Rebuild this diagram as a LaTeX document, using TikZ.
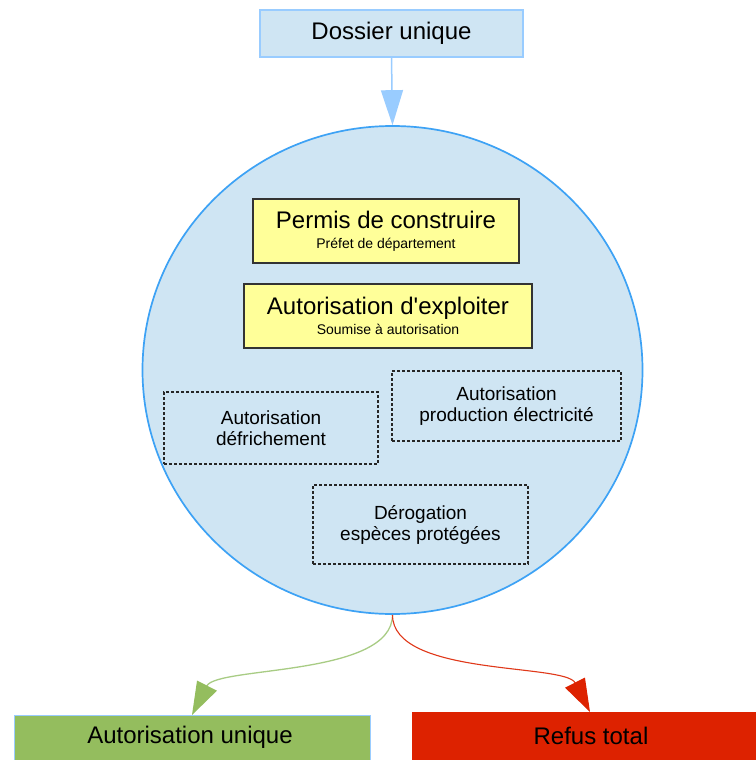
\documentclass[tikz,border=0pt]{standalone}
\usepackage{fontspec}
\setmainfont{Liberation Sans}[Ligatures=TeXOff]
\usetikzlibrary{shapes.geometric,arrows.meta}
\definecolor{lblue}{HTML}{CFE5F3}
\definecolor{bblue}{HTML}{3DA2F5}
\definecolor{abl}{HTML}{99CCFF}
\definecolor{yel}{HTML}{FFFF99}
\definecolor{grn}{HTML}{94BD5E}
\definecolor{grnline}{HTML}{A8CC84}
\definecolor{rd}{HTML}{DD2200}
\begin{document}
\begin{tikzpicture}[x=1pt,y=-1pt,
  ybox/.style={draw=black!80, fill=yel, line width=1.5pt, align=center, inner sep=0pt,
    font=\fontsize{14}{20}\selectfont},
  dbox/.style={draw=black!85, dash pattern=on 3pt off 2pt, line width=1.2pt, align=center,
    inner sep=0pt, font=\fontsize{19}{21}\selectfont},
  big/.style={font=\fontsize{24}{28}\selectfont},
  btm/.style={minimum width=356pt, minimum height=60pt, anchor=north, inner sep=0pt}]
\useasboundingbox (0,0) rectangle (755,760);
\fill[white] (0,0) rectangle (755,760);

\node[draw=abl, fill=lblue, line width=1.2pt, minimum width=263pt, minimum height=47pt, inner sep=0pt, big] (dos) at (391.5,33.5) {Dossier unique};

\node[ellipse, draw=bblue, fill=lblue, line width=1.7pt, minimum width=500pt, minimum height=488pt, inner sep=0pt] (circ) at (392.5,370) {};

\draw[abl, line width=1.5pt, -{Triangle[width=22pt,length=35pt]}] (dos.south) -- (circ.north);

\node[ybox, minimum width=266pt, minimum height=64pt] (pc) at (386,231)
  {{\fontsize{24}{20}\selectfont Permis de construire}\\Préfet de département};
\node[ybox, minimum width=288pt, minimum height=64pt] (ae) at (388,316)
  {{\fontsize{24}{20}\selectfont Autorisation d'exploiter}\\Soumise à autorisation};

\node[dbox, minimum width=214pt, minimum height=72pt] (d1) at (271,428) {Autorisation\\défrichement};
\node[dbox, minimum width=229pt, minimum height=70pt] (d2) at (506.5,406) {Autorisation\\production électricité};
\node[dbox, minimum width=215pt, minimum height=79pt] (d3) at (420.5,524.5) {Dérogation\\espèces protégées};

\node[btm, draw=abl, fill=grn] (gb) at (192,715) {};
\node[big] (gt) at (190,737) {Autorisation unique};
\node[btm, draw=rd, fill=rd] (rb) at (590,712) {};
\node[big] (rt) at (591,736) {Refus total};

\draw[grnline, line width=1.3pt, -{Triangle[width=22pt,length=33pt,fill=grn,color=grn]}]
  (circ.south) .. controls +(0,62) and +(25,-49) .. (gb.north);
\draw[rd!90!white, line width=1.1pt, -{Triangle[width=22pt,length=33pt,fill=rd,color=rd]}]
  (circ.south) .. controls +(0,62) and +(-25,-49) .. (rb.north);
\end{tikzpicture}
\end{document}
